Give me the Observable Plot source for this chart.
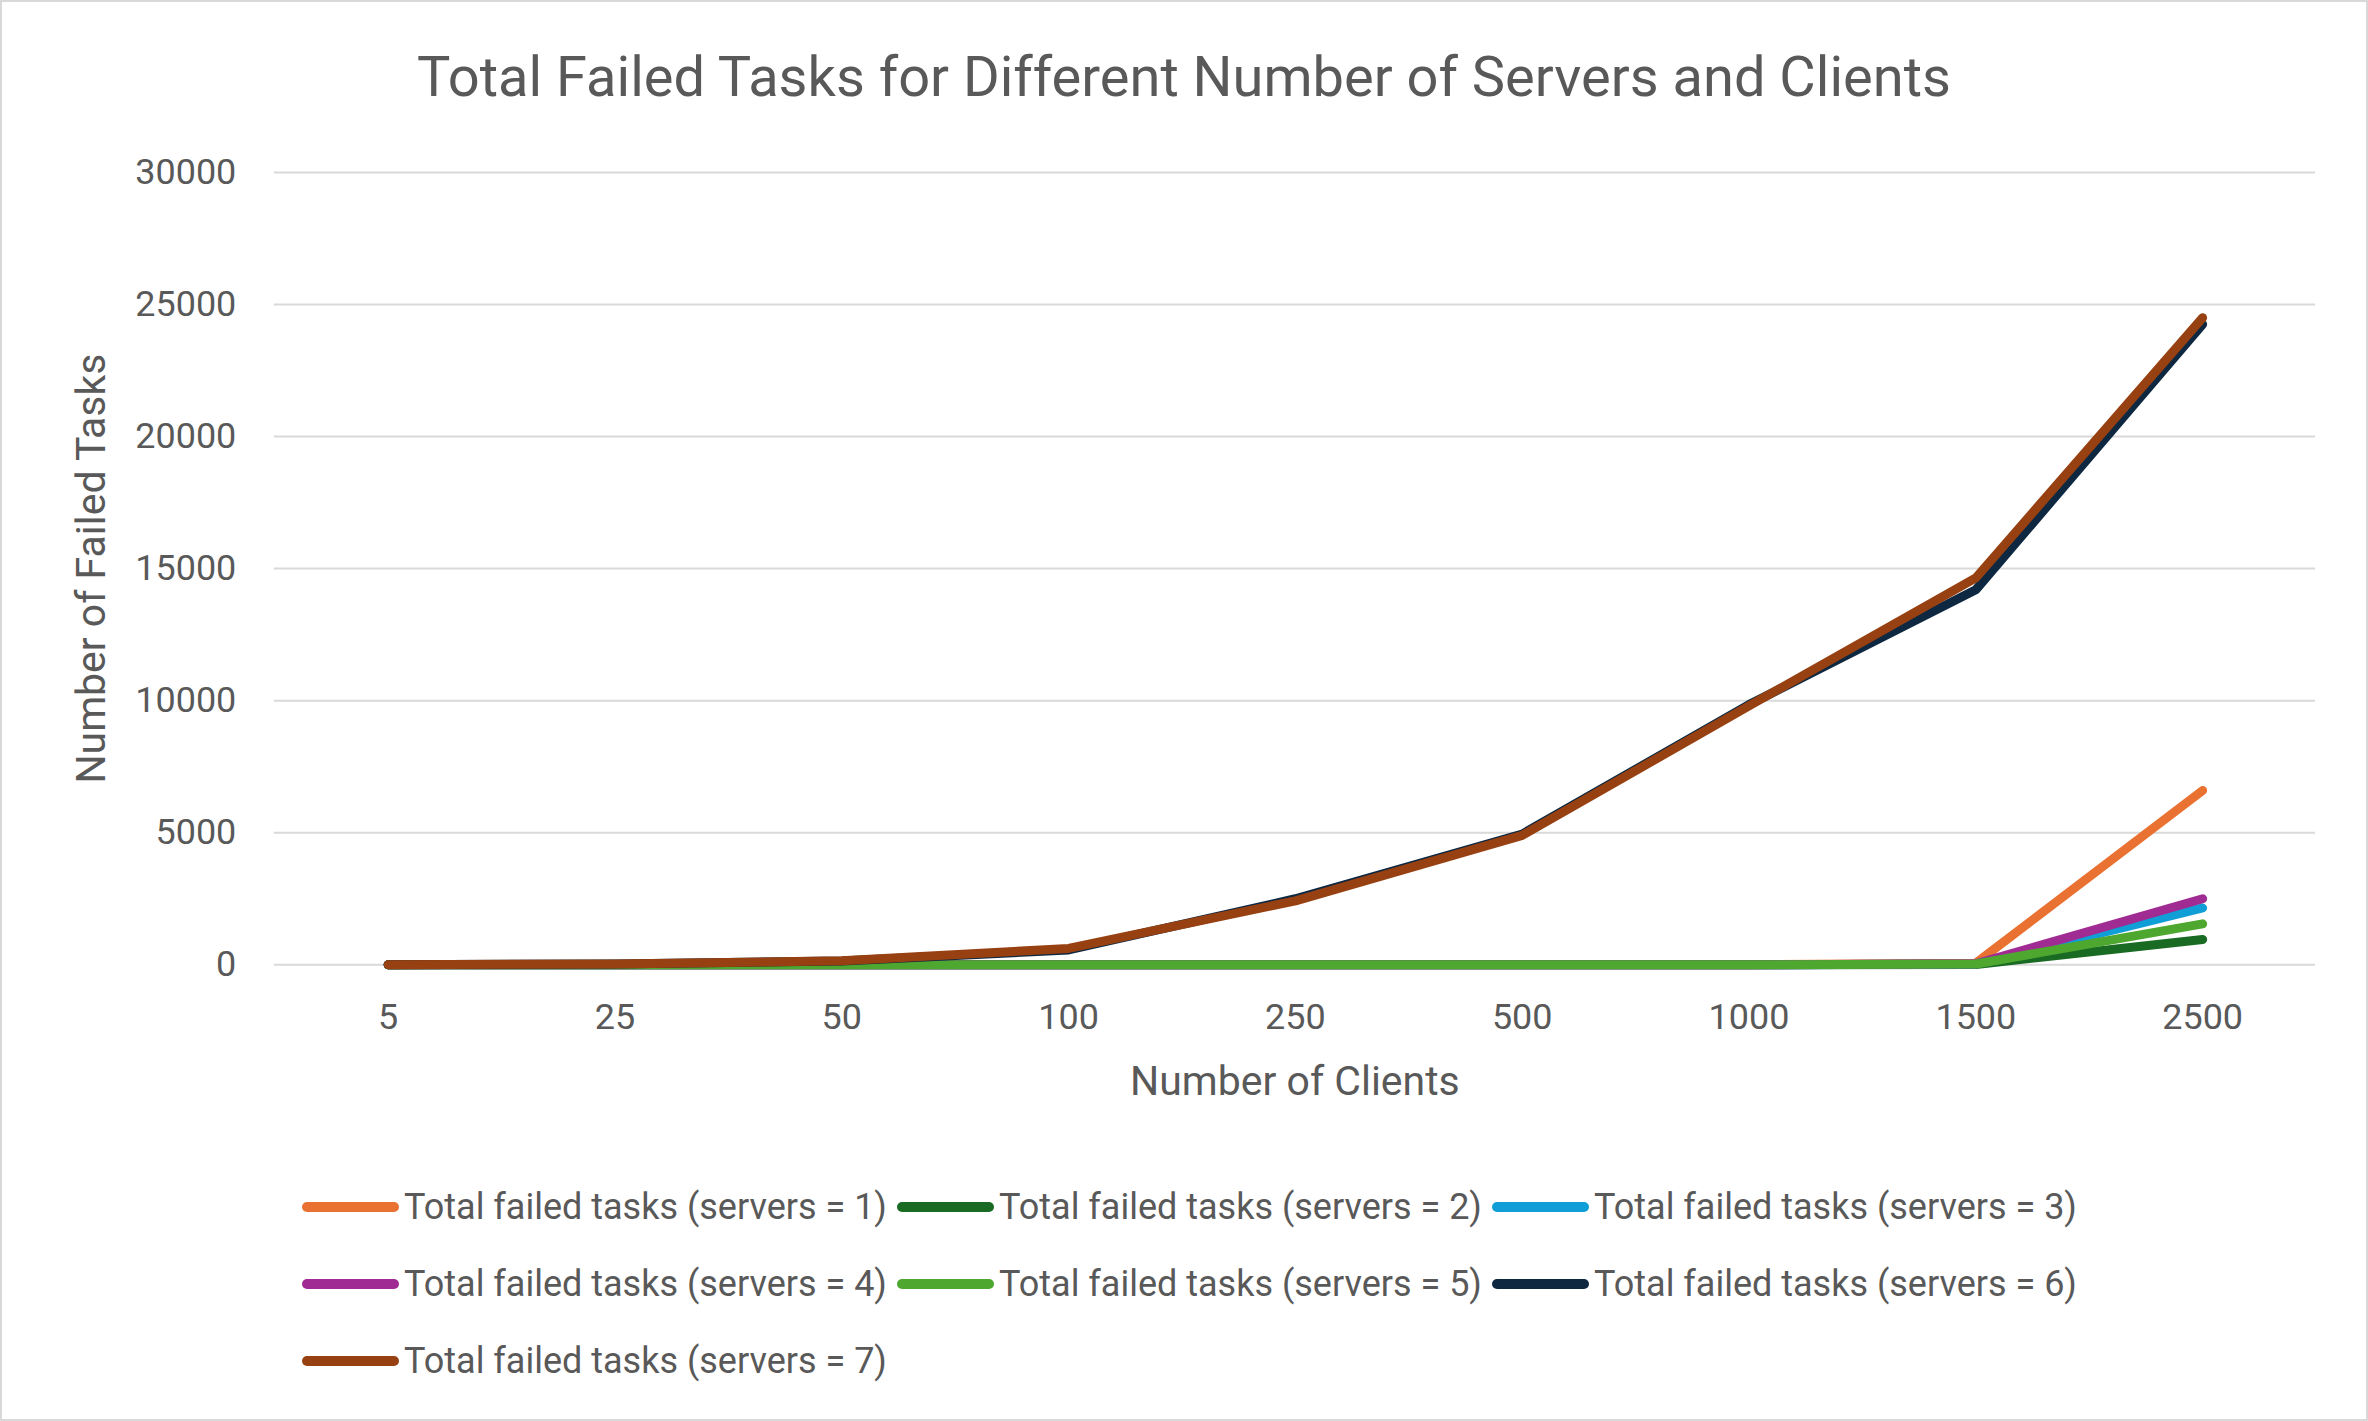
<!DOCTYPE html>
<html>
<head>
<meta charset="utf-8">
<script src="https://cdn.jsdelivr.net/npm/d3@7"></script>
<script src="https://cdn.jsdelivr.net/npm/@observablehq/plot@0.6"></script>
<style>
  html, body { margin: 0; padding: 0; background: #fff; }
  #frame { position: relative; width: 2368px; height: 1421px; box-sizing: border-box; border: 2px solid #D9D9D9; background: #fff; overflow: hidden; font-family: Roboto, sans-serif; color: #595959; }
  #title { position: absolute; left: 0; right: 0; top: 40px; text-align: center; font-size: 56px; line-height: 70px; color: #595959; }
  #chart { position: absolute; left: -2px; top: 108px; }
  #legend { position: absolute; left: 300px; top: 1174px; display: grid; grid-template-columns: 595px 595px 595px; grid-auto-rows: 77px; }
  .item { display: flex; align-items: center; height: 62px; font-size: 36px; color: #595959; white-space: nowrap; }
  .sw { width: 97px; height: 10px; border-radius: 5px; margin-right: 5px; flex: none; }
</style>
</head>
<body>
<div id="frame">
  <div id="title">Total Failed Tasks for Different Number of Servers and Clients</div>
  <div id="chart"></div>
  <div id="legend"></div>
</div>
<script>
const clients = ["5", "25", "50", "100", "250", "500", "1000", "1500", "2500"];
const servers1 = [0, 0, 0, 0, 0, 0, 0, 60, 6600];
const servers2 = [0, 0, 0, 0, 0, 0, 0, 10, 960];
const servers3 = [0, 0, 0, 0, 0, 0, 0, 30, 2150];
const servers4 = [0, 0, 0, 0, 0, 0, 0, 40, 2500];
const servers5 = [0, 0, 0, 0, 0, 0, 0, 30, 1550];
const servers6 = [5, 28, 140, 560, 2500, 4950, 9850, 14200, 24250];
const servers7 = [5, 30, 150, 620, 2420, 4900, 9800, 14650, 24500];
const seriesNames = [1, 2, 3, 4, 5, 6, 7].map(n => `Total failed tasks (servers = ${n})`);
const seriesColors = ["#E97132", "#196B24", "#0F9ED5", "#A02B93", "#4EA72E", "#0E2841", "#974011"];
const yTicks = [0, 5000, 10000, 15000, 20000, 25000, 30000];

const allSeries = [servers1, servers2, servers3, servers4, servers5, servers6, servers7];
const data = allSeries.flatMap((vals, i) => vals.map((v, j) => ({series: seriesNames[i], client: clients[j], value: v})));

const chart = Plot.plot({
  width: 2368,
  height: 1012,
  marginTop: 62,
  marginBottom: 157,
  marginLeft: 274,
  marginRight: 51,
  style: {fontFamily: "Roboto, sans-serif", fontSize: "36px", color: "#595959", background: "transparent", overflow: "visible"},
  x: {type: "point", domain: clients, padding: 0.5},
  y: {domain: [0, 30000]},
  color: {domain: seriesNames, range: seriesColors},
  marks: [
    Plot.gridY(yTicks, {stroke: "#D9D9D9", strokeOpacity: 1, strokeWidth: 2}),
    Plot.axisY(yTicks, {tickSize: 0, tickPadding: 38, tickFormat: d => String(d), fontSize: 36, label: "Number of Failed Tasks", labelAnchor: "center", labelArrow: "none", labelOffset: 199}),
    Plot.axisX({tickSize: 0, tickPadding: 39, fontSize: 36, label: "Number of Clients", labelAnchor: "center", labelArrow: "none", labelOffset: 130}),
    Plot.line(data, {x: "client", y: "value", z: "series", stroke: "series", strokeWidth: 9, strokeLinecap: "round", strokeLinejoin: "round"})
  ]
});
document.getElementById("chart").appendChild(chart);
d3.select(chart).selectAll("g[aria-label='x-axis label'] text, g[aria-label='y-axis label'] text").style("font-size", "41px");

const legend = document.getElementById("legend");
seriesNames.forEach((name, i) => {
  const item = document.createElement("div");
  item.className = "item";
  const sw = document.createElement("span");
  sw.className = "sw";
  sw.style.background = seriesColors[i];
  const label = document.createElement("span");
  label.textContent = name;
  item.appendChild(sw);
  item.appendChild(label);
  legend.appendChild(item);
});
</script>
</body>
</html>
